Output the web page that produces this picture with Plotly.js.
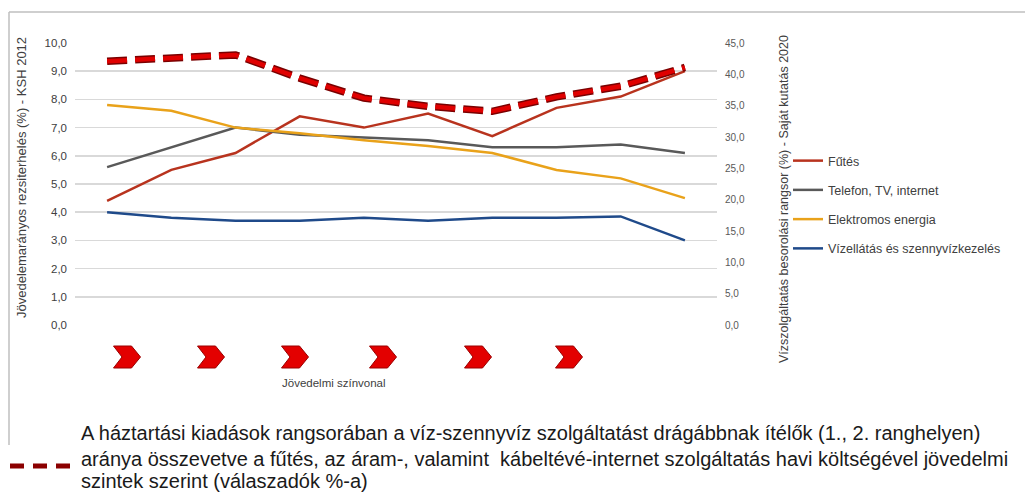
<!DOCTYPE html>
<html>
<head>
<meta charset="utf-8">
<script src="https://cdn.plot.ly/plotly-3.0.1.min.js"></script>
<style>
    html, body { margin: 0; padding: 0; background: #fff; }
    #grafico { width: 1025px; height: 494px; }
</style>
</head>
<body>
<div id="grafico"></div>
<script>
// Jövedelmi szintek (10 kategória)
const szintek = ['1', '2', '3', '4', '5', '6', '7', '8', '9', '10'];

// Bal tengely: jövedelemarányos rezsiterhelés (%) - KSH 2012
const futes = [4.4, 5.5, 6.1, 7.4, 7.0, 7.5, 6.7, 7.7, 8.1, 9.0];
const telefon = [5.6, 6.3, 7.0, 6.75, 6.65, 6.55, 6.3, 6.3, 6.4, 6.1];
const elektromos = [7.8, 7.6, 7.0, 6.8, 6.55, 6.35, 6.1, 5.5, 5.2, 4.5];
const vizellatas = [4.0, 3.8, 3.7, 3.7, 3.8, 3.7, 3.8, 3.8, 3.85, 3.0];

// Jobb tengely: vízszolgáltatás besorolási rangsor (%) - Saját kutatás 2020
const rangsor = [42.1, 42.6, 43.1, 39.4, 36.2, 34.9, 34.1, 36.4, 38.1, 41.1];

const sorozatNevek = ['Fűtés', 'Telefon, TV, internet', 'Elektromos energia', 'Vízellátás és szennyvízkezelés'];
const szinek = ['#B8331E', '#595959', '#E9A21A', '#1F4A8A'];

// felirat sorai
const feliratSorok = [
    'A háztartási kiadások rangsorában a víz-szennyvíz szolgáltatást drágábbnak ítélők (1., 2. ranghelyen)',
    'aránya összevetve a fűtés, az áram-, valamint  kábeltévé-internet szolgáltatás havi költségével jövedelmi',
    'szintek szerint (válaszadók %-a)'
];

// plot terület pixelben
const L = 75, R = 717, T = 43, B = 325;
function px(x) { return (x - L) / (R - L); }
function py(y) { return (B - y) / (B - T); }

const adatok = [futes, telefon, elektromos, vizellatas];
const traces = adatok.map((sor, i) => ({
    x: szintek,
    y: sor,
    type: 'scatter',
    mode: 'lines',
    name: sorozatNevek[i],
    legendgroup: 'g' + i,
    line: { color: szinek[i], width: 2.5 },
    hoverinfo: 'skip'
}));

// szaggatott vonal (jobb tengely) - sötét kontúr + piros belső
traces.push({
    x: szintek, y: rangsor, yaxis: 'y2', type: 'scatter', mode: 'lines',
    showlegend: false, hoverinfo: 'skip',
    line: { color: '#7A0000', width: 7.5, dash: '20px,8px' }
});
traces.push({
    x: szintek, y: rangsor, yaxis: 'y2', type: 'scatter', mode: 'lines',
    showlegend: false, hoverinfo: 'skip',
    line: { color: '#E00000', width: 4.5, dash: '20px,8px' }
});

// nyilak a jövedelmi szint alatt
const nyilak = [127, 211, 295, 383, 478, 569];
const shapes = nyilak.map(cx => ({
    type: 'path',
    xref: 'paper', yref: 'paper',
    xsizemode: 'pixel', ysizemode: 'pixel',
    xanchor: px(cx), yanchor: py(357),
    path: 'M -13.5,11 L 4.5,11 L 13.5,0 L 4.5,-11 L -13.5,-11 L -5,0 Z',
    fillcolor: '#E30000',
    line: { color: '#9A0000', width: 1 },
    layer: 'above'
}));

// keret
shapes.push({ type: 'line', xref: 'paper', yref: 'paper', x0: px(9), x1: px(1030), y0: py(12), y1: py(12), line: { color: '#BFBFBF', width: 1.5 } });
shapes.push({ type: 'line', xref: 'paper', yref: 'paper', x0: px(9), x1: px(9), y0: py(12), y1: py(445), line: { color: '#BFBFBF', width: 1.5 } });

// felirat jelölése
shapes.push({ type: 'line', xref: 'paper', yref: 'paper', x0: px(10), x1: px(76), y0: py(466), y1: py(466), line: { color: '#8B0000', width: 5, dash: '14px,9px' } });

const betu = 'Liberation Sans, Arial, sans-serif';

const annotations = [
    {
        text: 'Jövedelemarányos rezsiterhelés (%) - KSH 2012',
        xref: 'paper', yref: 'paper', x: px(21), y: py(178),
        xanchor: 'center', yanchor: 'middle',
        textangle: -90, showarrow: false,
        font: { size: 13, color: '#404040', family: betu }
    },
    {
        text: 'Vízszolgáltatás besorolási rangsor (%) - Saját kutatás 2020',
        xref: 'paper', yref: 'paper', x: px(784), y: py(199),
        xanchor: 'center', yanchor: 'middle',
        textangle: -90, showarrow: false,
        font: { size: 12.5, color: '#404040', family: betu }
    },
    {
        text: 'Jövedelmi színvonal',
        xref: 'paper', yref: 'paper', x: px(334), y: py(383),
        xanchor: 'center', yanchor: 'middle',
        showarrow: false,
        font: { size: 11.5, color: '#404040', family: 'Liberation Sans Narrow, ' + betu }
    }
];

const sorY = [433, 458.5, 481];
feliratSorok.forEach((sor, i) => {
    annotations.push({
        text: sor,
        xref: 'paper', yref: 'paper', x: px(79), y: py(sorY[i]),
        xanchor: 'left', yanchor: 'middle', align: 'left',
        showarrow: false,
        font: { size: 20, color: '#1a1a1a', family: 'Liberation Sans Narrow, ' + betu }
    });
});

const layout = {
    width: 1025,
    height: 494,
    margin: { l: L, r: 1025 - R, t: T, b: 494 - B },
    paper_bgcolor: '#ffffff',
    plot_bgcolor: '#ffffff',
    separators: ', ',
    showlegend: true,
    font: { family: betu, color: '#404040' },
    xaxis: {
        type: 'category',
        range: [-0.5, 9.5],
        showticklabels: false,
        showgrid: false,
        zeroline: false,
        showline: false,
        ticks: ''
    },
    yaxis: {
        range: [0, 10],
        dtick: 1,
        tickformat: '.1f',
        gridcolor: '#D9D9D9',
        gridwidth: 1.5,
        zeroline: false,
        showline: false,
        ticks: '',
        ticklabelstandoff: 7,
        tickfont: { size: 11.5, color: '#404040', family: betu }
    },
    yaxis2: {
        overlaying: 'y',
        side: 'right',
        range: [0, 45],
        dtick: 5,
        tickformat: '.1f',
        showgrid: false,
        zeroline: false,
        showline: false,
        ticks: '',
        ticklabelstandoff: 7,
        tickfont: { size: 10, color: '#595959', family: betu }
    },
    legend: {
        x: px(788), xanchor: 'left',
        y: py(146), yanchor: 'top',
        font: { size: 12.5, color: '#404040', family: betu },
        tracegroupgap: 10,
        traceorder: 'grouped',
        itemwidth: 30,
        bgcolor: 'rgba(0,0,0,0)'
    },
    shapes: shapes,
    annotations: annotations
};

Plotly.newPlot('grafico', traces, layout, { displayModeBar: false, staticPlot: true });
</script>
</body>
</html>
